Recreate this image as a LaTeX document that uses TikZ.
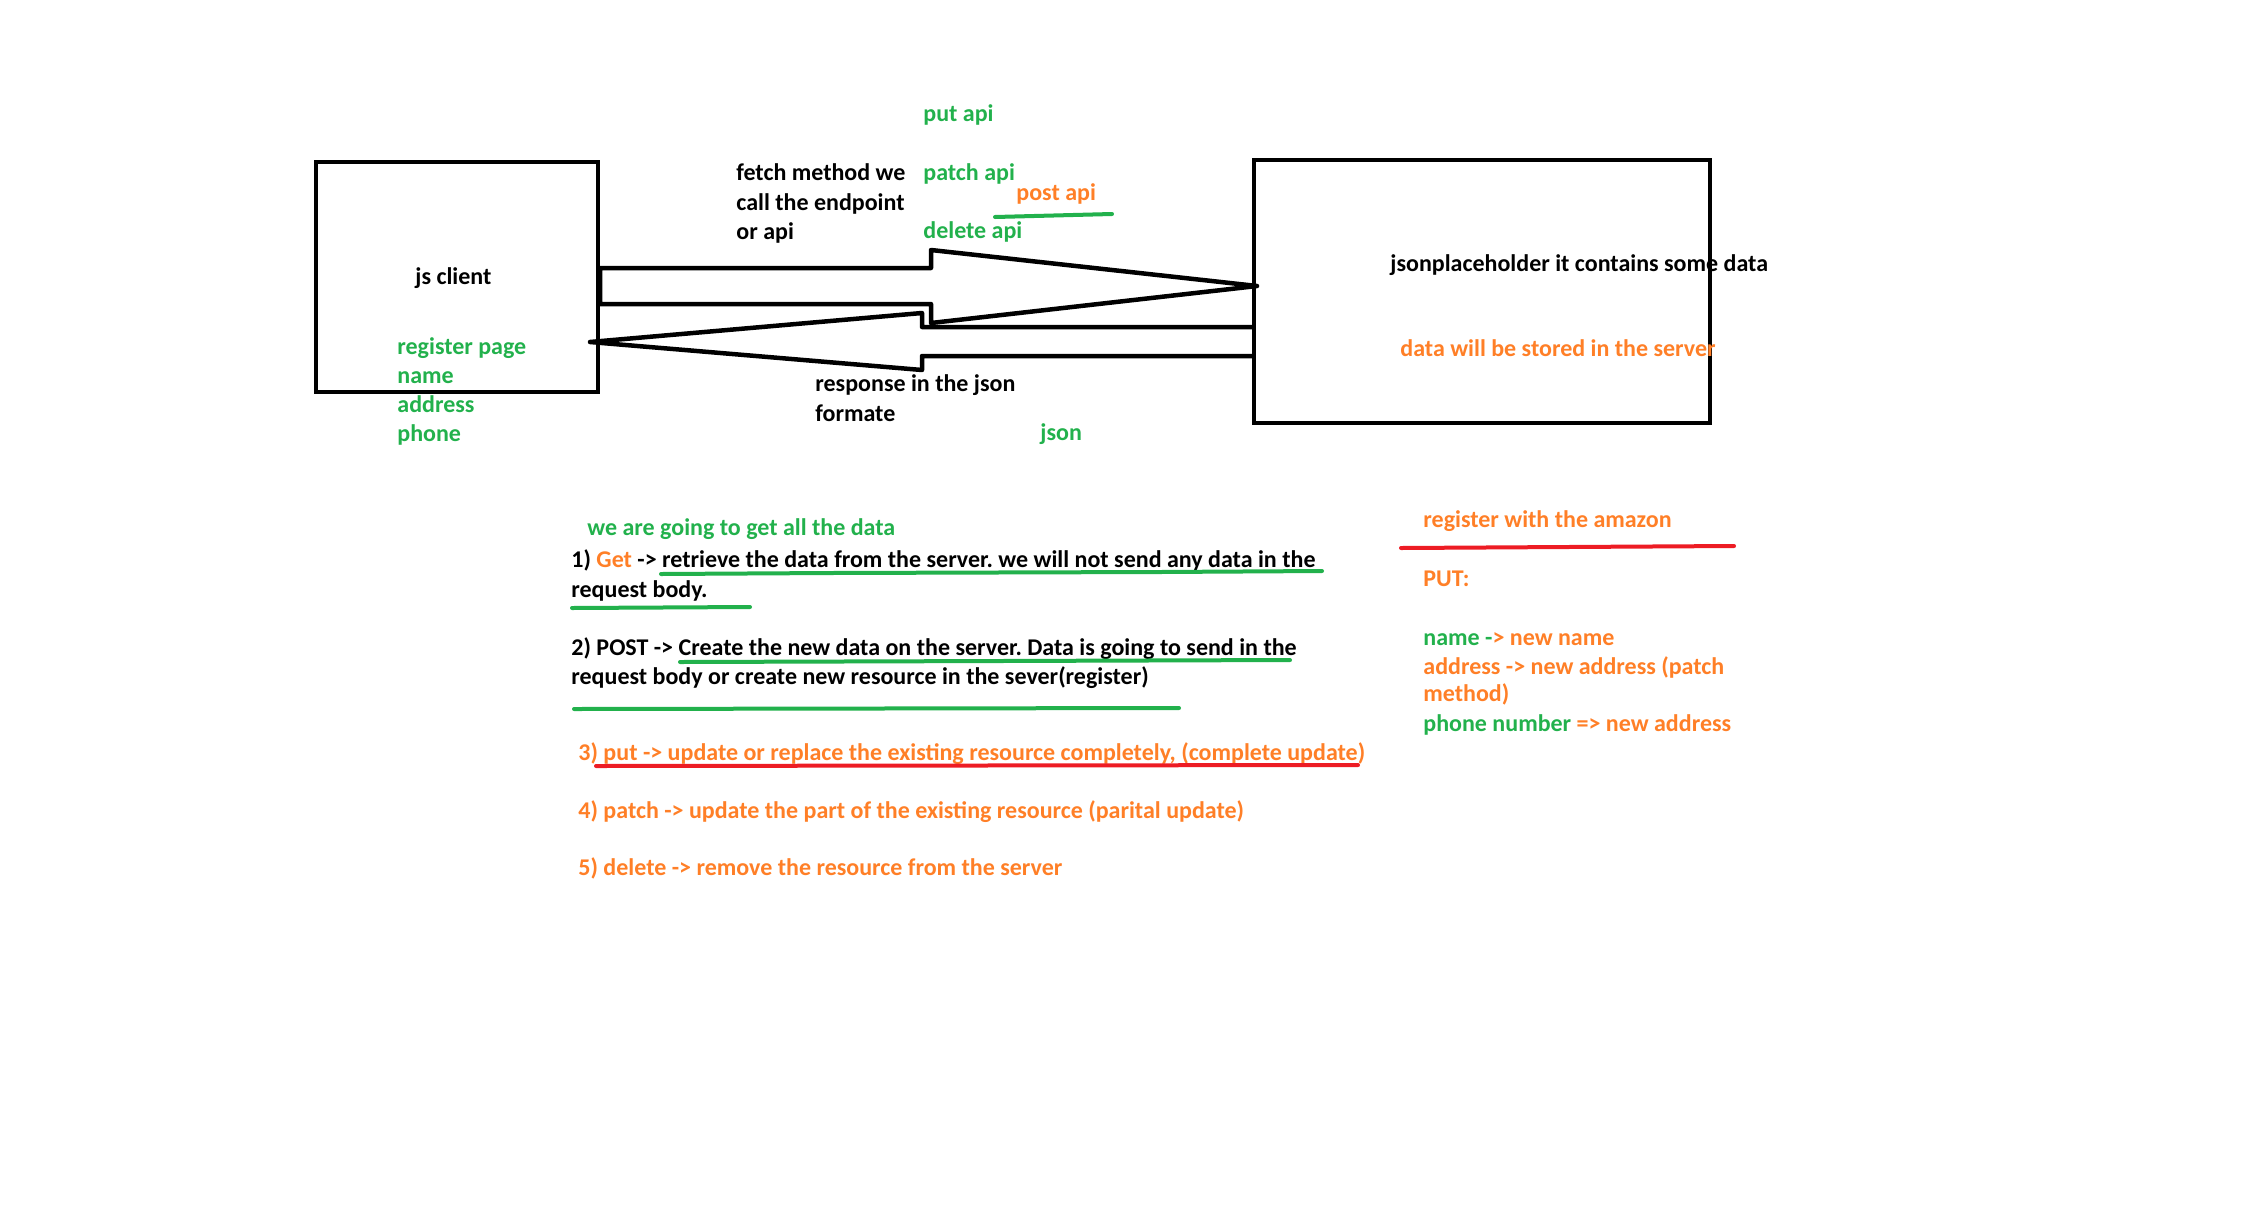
\documentclass[tikz,border=0pt]{standalone}
\usepackage{fontspec}
\setmainfont{Carlito}
\frenchspacing
\definecolor{pgreen}{RGB}{34,177,76}
\definecolor{porange}{RGB}{255,127,39}
\definecolor{pred}{RGB}{237,28,36}
\tikzset{
  txt/.style={anchor=west, inner sep=0pt, yshift=-1.5pt, text height=0.75em, text depth=0.25em, font=\fontsize{12}{14.75}\selectfont\bfseries},
  gtxt/.style={txt, text=pgreen},
  otxt/.style={txt, text=porange},
  thick box/.style={line width=2.25pt},
  block arrow/.style={line width=2.25pt, line join=round},
  gline/.style={draw=pgreen, line width=2pt, line cap=round},
  rline/.style={draw=pred, line width=2pt, line cap=round},
}

\begin{document}
\begin{tikzpicture}[x=0.5pt,y=0.5pt,yscale=-1,xscale=1]
\useasboundingbox (0,0) rectangle (2268,1216);

%Shape: Rectangle [js client]
\draw [thick box] (316,162) rectangle (598,392);
%Shape: Rectangle [server]
\draw [thick box] (1254,160) rectangle (1710,423);

%Shape: Right Arrow [request]
\draw [block arrow] (600,268) -- (931,268) -- (931,250) -- (1257,286) -- (931,323) -- (931,304) -- (600,304) -- cycle ;
%Shape: Left Arrow [response]
\draw [block arrow] (1255,327) -- (922,327) -- (922,313) -- (590,342) -- (922,370) -- (922,356) -- (1255,356) ;

% Text Node
\draw (923,113) node [gtxt] (putapi) {put api};
% Text Node
\draw (736,172) node [txt] (fetcha) {fetch method we};
\draw (736,202) node [txt] (fetchb) {call the endpoint};
\draw (736,231) node [txt] (fetchc) {or api};
% Text Node
\draw (923,172) node [gtxt] (patchapi) {patch api};
\draw (1016,192) node [otxt] (postapi) {post api};
\draw (923,230) node [gtxt] (deleteapi) {delete api};
% Text Node
\draw (415,276) node [txt] (jsclient) {js client};
% Text Node
\draw (397,346) node [gtxt] (regpage) {register page};
\draw (397,375) node [gtxt] (fname) {name};
\draw (397,404) node [gtxt] (faddress) {address};
\draw (397,433) node [gtxt] (fphone) {phone};
% Text Node
\draw (815,383) node [txt] (respa) {response in the json};
\draw (815,413) node [txt] (respb) {formate};
\draw (1040,432) node [gtxt] (json) {json};
% Text Node
\draw (1390,263) node [txt] (jph) {jsonplaceholder it contains some data};
\draw (1400,348) node [otxt] (stored) {data will be stored in the server};

% Text Node
\draw (587,527) node [gtxt] (getall) {we are going to get all the data};
\draw (571,559) node [txt] (geta) {1) \textcolor{porange}{Get} -> retrieve the data from the server. we will not send any data in the};
\draw (571,589) node [txt] (getb) {request body.};
\draw (571,647) node [txt] (posta) {2) POST -> Create the new data on the server. Data is going to send in the};
\draw (571,676) node [txt] (postb) {request body or create new resource in the sever(register)};
\draw (578,752) node [otxt] (put) {3) put -> update or replace the existing resource completely, (complete update)};
\draw (578,810) node [otxt] (patch) {4) patch -> update the part of the existing resource (parital update)};
\draw (578,867) node [otxt] (delete) {5) delete -> remove the resource from the server};

% Text Node
\draw (1423,519) node [otxt] (amazon) {register with the amazon};
\draw (1423,578) node [otxt] (putlbl) {PUT:};
\draw (1423,637) node [otxt] (newname) {\textcolor{pgreen}{name -}> new name};
\draw (1423,666) node [otxt] (newaddr) {address -> new address (patch};
\draw (1423,693) node [otxt] (method) {method)};
\draw (1423,723) node [otxt] (newphone) {\textcolor{pgreen}{phone number} => new address};

%Straight Lines [underlines]
\draw [gline] (995,217) -- (1112,214) ;
\draw [gline] (661,574) -- (830,573) -- (1160,572) -- (1322,571) ;
\draw [gline] (572,608) -- (750,607) ;
\draw [gline] (680,662) -- (1000,661) -- (1290,660) ;
\draw [gline] (574,709) -- (1179,708) ;
\draw [rline] (596,766) -- (1358,765) ;
\draw [rline] (1401,548) -- (1734,546) ;

\end{tikzpicture}
\end{document}
